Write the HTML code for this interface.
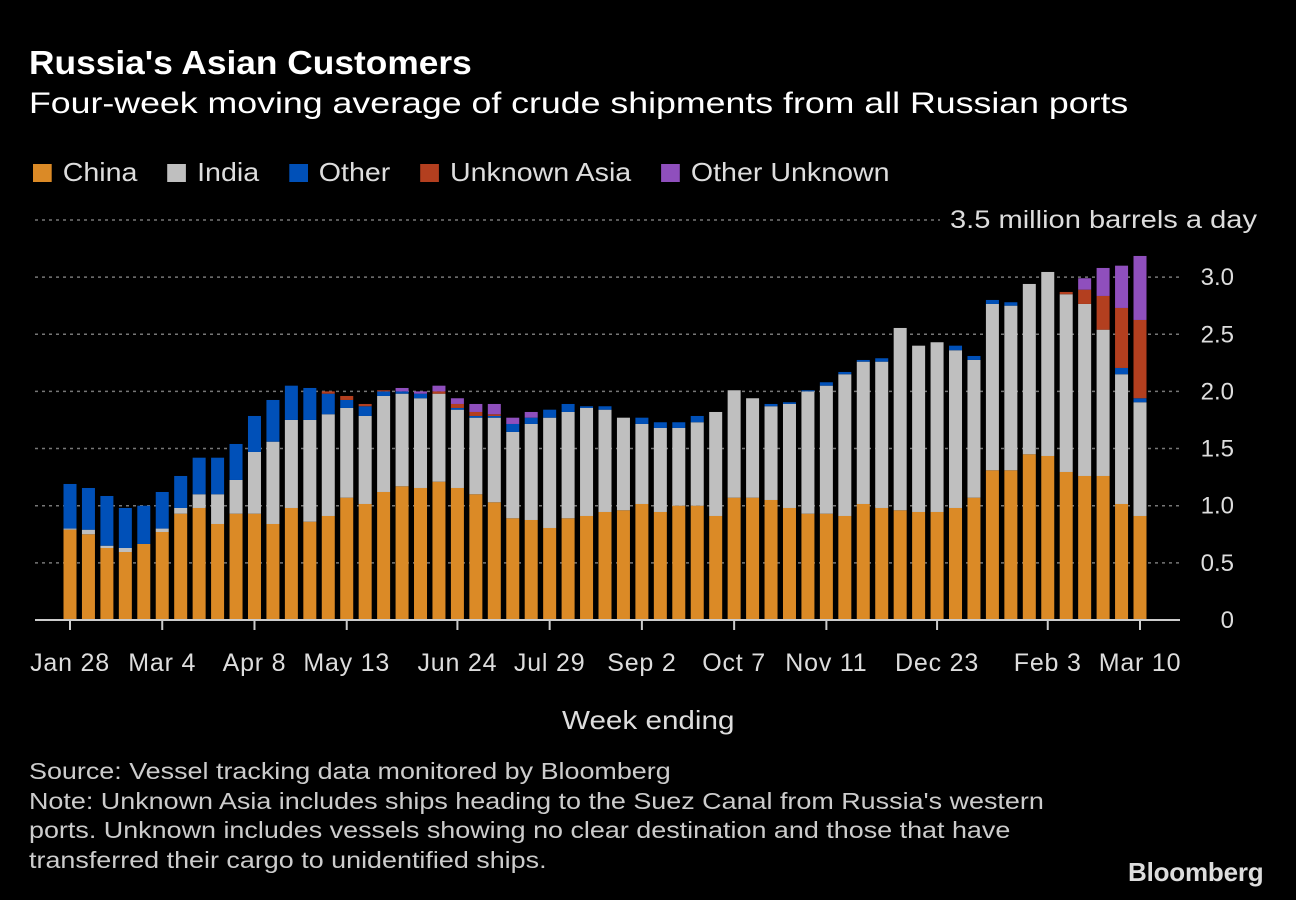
<!DOCTYPE html>
<html><head><meta charset="utf-8"><style>
html,body{margin:0;padding:0;background:#000;}
body{width:1296px;height:900px;overflow:hidden;font-family:"Liberation Sans",sans-serif;color:#fff;position:relative;}
.t{position:absolute;white-space:nowrap;transform-origin:0 0;}
</style></head><body>
<div class="t" style="left:29px;top:44px;font-size:33px;font-weight:bold;transform:scaleX(1.07);">Russia's Asian Customers</div>
<div class="t" style="left:29px;top:87px;font-size:30px;transform:scaleX(1.19);">Four-week moving average of crude shipments from all Russian ports</div>
<div class="t" style="left:33px;top:157px;font-size:26px;color:#ddd;transform:scaleX(1.1);">
<span><span style="display:inline-block;width:17px;height:18px;background:#db8a26;vertical-align:-1px;margin-right:10px"></span>China</span>
<span style="margin-left:20px"><span style="display:inline-block;width:17px;height:18px;background:#bfbfbf;vertical-align:-1px;margin-right:10px"></span>India</span>
<span style="margin-left:20px"><span style="display:inline-block;width:17px;height:18px;background:#0050b8;vertical-align:-1px;margin-right:10px"></span>Other</span>
<span style="margin-left:20px"><span style="display:inline-block;width:17px;height:18px;background:#b33f1f;vertical-align:-1px;margin-right:10px"></span>Unknown Asia</span>
<span style="margin-left:20px"><span style="display:inline-block;width:17px;height:18px;background:#8f4fbd;vertical-align:-1px;margin-right:10px"></span>Other Unknown</span>
</div>
<svg id="chart" width="1296" height="900" style="position:absolute;left:0;top:0" xmlns="http://www.w3.org/2000/svg"></svg>
<div class="t" style="left:562px;top:705px;font-size:26px;color:#ddd;transform:scaleX(1.14);">Week ending</div>
<div class="t" style="left:29px;top:757px;font-size:23px;color:#ccc;line-height:29.5px;transform:scaleX(1.17);">Source: Vessel tracking data monitored by Bloomberg<br>Note: Unknown Asia includes ships heading to the Suez Canal from Russia's western<br>ports. Unknown includes vessels showing no clear destination and those that have<br>transferred their cargo to unidentified ships.</div>
<div class="t" style="left:1128px;top:857px;font-size:26px;font-weight:bold;color:#ddd;letter-spacing:-0.2px;">Bloomberg</div>
<script>
const china=[.79,.75,.63,.595,.665,.77,.93,.98,.84,.93,.93,.84,.98,.86,.91,1.07,1.015,1.12,1.17,1.155,1.21,1.155,1.10,1.03,.89,.875,.805,.89,.91,.945,.96,1.015,.945,1.0,1.0,.91,1.07,1.07,1.05,.98,.93,.93,.91,1.015,.98,.96,.945,.945,.98,1.07,1.31,1.31,1.45,1.435,1.295,1.26,1.26,1.015,.91];
const india=[.01,.04,.02,.035,0,.03,.05,.12,.26,.295,.54,.72,.77,.89,.89,.785,.77,.84,.81,.785,.77,.685,.67,.74,.755,.84,.965,.93,.945,.895,.81,.70,.735,.68,.73,.91,.94,.87,.82,.91,1.07,1.12,1.24,1.245,1.28,1.595,1.455,1.485,1.38,1.205,1.455,1.44,1.49,1.61,1.555,1.505,1.28,1.135,.995];
const other=[.39,.365,.435,.35,.335,.32,.28,.32,.32,.315,.315,.365,.30,.28,.18,.07,.085,.04,.02,.04,0,.015,.015,.015,.07,.055,.07,.07,.015,.03,0,.055,.05,.05,.055,0,0,0,.02,.015,.01,.03,.02,.015,.03,0,0,0,.04,.035,.035,.03,0,0,0,0,0,.055,.035];
const unknownAsia=[0,0,0,0,0,0,0,0,0,0,0,0,0,0,.02,.035,.02,.01,0,0,.02,.035,.035,.015,0,0,0,0,0,0,0,0,0,0,0,0,0,0,0,0,0,0,0,0,0,0,0,0,0,0,0,0,0,0,.02,.125,.295,.525,.685];
const otherUnknown=[0,0,0,0,0,0,0,0,0,0,0,0,0,0,0,0,0,0,.03,.02,.05,.05,.07,.09,.055,.05,0,0,0,0,0,0,0,0,0,0,0,0,0,0,0,0,0,0,0,0,0,0,0,0,0,0,0,0,0,.10,.245,.37,.56];
const tickLabels=["Jan 28","Mar 4","Apr 8","May 13","Jun 24","Jul 29","Sep 2","Oct 7","Nov 11","Dec 23","Feb 3","Mar 10"];
const tickIndex=[0,5,10,15,21,26,31,36,41,47,53,58];
const yTicks=[0,0.5,1,1.5,2,2.5,3];

const svg=document.getElementById('chart');
const NS='http://www.w3.org/2000/svg';
const n=china.length;
const x0=70,x1=1140;
const xs=i=>x0+i*(x1-x0)/(n-1);
const ys=v=>620-v*114.3;
function mk(tag,a){const e=document.createElementNS(NS,tag);for(const k in a)e.setAttribute(k,a[k]);svg.appendChild(e);return e;}
yTicks.forEach(v=>{
  if(v>0){const g=mk('line',{x1:35,x2:1180,y1:ys(v),y2:ys(v),stroke:'#777','stroke-width':1.5,'stroke-dasharray':'3,4'});
  
  }
  const t=mk('text',{x:1234,y:ys(v)+8,'text-anchor':'end','font-size':24,fill:'#ddd','font-family':'Liberation Sans, sans-serif'});
  t.textContent=v===0?'0':v.toFixed(1);
  
  
});
const g35=mk('line',{x1:35,x2:940,y1:ys(3.5),y2:ys(3.5),stroke:'#777','stroke-width':1.5,'stroke-dasharray':'3,4'});


const yl=mk('text',{x:950,y:ys(3.5)+8,'font-size':25,fill:'#ddd','font-family':'Liberation Sans, sans-serif',textLength:307,lengthAdjust:'spacingAndGlyphs'});
yl.textContent='3.5 million barrels a day';


const series=[china,india,other,unknownAsia,otherUnknown];
const colors=['#db8a26','#bfbfbf','#0050b8','#b33f1f','#8f4fbd'];
const names=['china','india','other','unknown-asia','other-unknown'];
for(let i=0;i<n;i++){
  let base=0;
  series.forEach((s,k)=>{
    const v=s[i];if(v<=0)return;
    const r=mk('rect',{x:xs(i)-6.5,y:ys(base+v),width:13,height:ys(base)-ys(base+v),fill:colors[k]});
    
    
    base+=v;
  });
}
const ax=mk('line',{x1:35,x2:1180,y1:620,y2:620,stroke:'#ccc','stroke-width':2});


tickIndex.forEach((ix,j)=>{
  const tk=mk('line',{x1:xs(ix),x2:xs(ix),y1:620,y2:630,stroke:'#ccc','stroke-width':2});
  
  
  const t=mk('text',{x:xs(ix),y:671,'text-anchor':'middle','font-size':25,fill:'#ddd','font-family':'Liberation Sans, sans-serif','letter-spacing':'0.8px'});
  t.textContent=tickLabels[j];
  
  
});
</script>
</body></html>
